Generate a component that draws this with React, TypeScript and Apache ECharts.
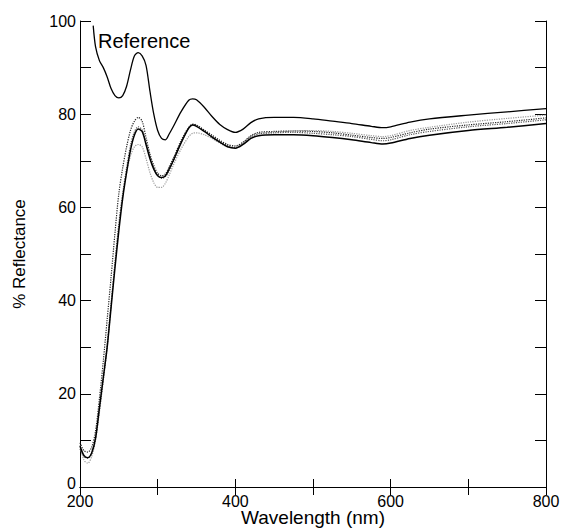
import React, { useEffect, useRef } from "react";
import * as echarts from "echarts";

// Wavelength grid (nm)
const wavelengths = [200, 205, 210, 215, 220, 225, 230, 235, 240, 245, 250, 255, 260, 265, 270, 275, 280, 285, 290, 295, 300, 305, 310, 315, 320, 330, 340, 345, 350, 360, 370, 380, 390, 400, 410, 420, 430, 450, 475, 500, 525, 550, 575, 590, 600, 625, 650, 700, 750, 800];

// Reference spectrum (starts at 217 nm)
const refWavelengths = [217, 220, 225, 230, 235, 240, 245, 250, 255, 260, 265, 270, 275, 280, 285, 290, 295, 300, 305, 310, 315, 320, 330, 340, 345, 350, 360, 370, 380, 390, 400, 410, 420, 430, 450, 475, 500, 525, 550, 575, 590, 600, 625, 650, 700, 750, 800];
const referenceValues = [99, 94.5, 91.5, 90, 88, 85.5, 84, 83.5, 84, 86, 89.5, 92.5, 93.2, 92.5, 90.5, 85, 80, 76.5, 74.8, 74.5, 75.8, 77.3, 80.5, 83, 83.3, 83.1, 81.5, 79.5, 77.8, 76.7, 76.1, 76.8, 78.2, 79.0, 79.3, 79.3, 79.0, 78.5, 78.0, 77.4, 77.1, 77.3, 78.3, 79.0, 79.8, 80.5, 81.2];

// Sample spectra
const sampleA = [8.8, 6.8, 6.3, 7.3, 10.5, 17, 23.5, 30, 38.5, 47, 55, 62, 67.5, 72.3, 75.5, 76.8, 76.3, 73.5, 70.5, 68.2, 66.8, 66.4, 66.8, 68.3, 70, 73.8, 77, 77.7, 77.4, 76.3, 75.1, 74.0, 73.0, 72.7, 73.5, 74.8, 75.4, 75.6, 75.6, 75.4, 75.0, 74.5, 73.9, 73.6, 73.8, 74.8, 75.5, 76.5, 77.2, 78.0];
const sampleB = [9.5, 7.8, 7.5, 8.5, 12, 19, 27, 36, 45, 54.5, 63, 68.5, 73, 76.5, 78.5, 79.3, 78.5, 75, 71.5, 69, 67.3, 66.8, 67.2, 68.8, 70.5, 74.3, 77.2, 77.8, 77.6, 76.6, 75.5, 74.4, 73.5, 73.2, 74, 75.4, 76.1, 76.3, 76.4, 76.3, 76.0, 75.5, 75.0, 74.8, 75.0, 76.0, 76.8, 77.7, 78.4, 79.2];
const sampleC = [9, 5.8, 5.1, 6.5, 10, 16, 23, 31, 39.5, 48, 56, 62.5, 67.5, 71, 73, 73.5, 73, 70.5, 67.5, 65.3, 64.3, 64.3, 65.2, 67, 69, 72.5, 75.2, 75.9, 76.0, 75.6, 74.8, 73.8, 73.0, 72.8, 73.6, 75, 75.8, 76.1, 76.4, 76.5, 76.3, 75.9, 75.4, 75.2, 75.4, 76.5, 77.2, 78.3, 79.1, 79.8];
const sampleD = [8.2, 6.5, 6.2, 7.2, 10.3, 16.5, 23, 30, 39, 48, 56.5, 63, 68.5, 73.3, 76.2, 77.3, 76.6, 74, 71, 68.5, 67, 66.2, 66.6, 68, 69.8, 73.8, 77.1, 77.9, 77.7, 76.5, 75.3, 74.2, 73.3, 72.9, 73.8, 75.2, 75.8, 76.0, 76.1, 75.9, 75.6, 75.2, 74.6, 74.3, 74.5, 75.6, 76.3, 77.3, 78.0, 78.8];

const xTickLabels = ["200", "400", "600", "800"];
const yTickLabels = ["0", "20", "40", "60", "80", "100"];

const FONT = "'Liberation Sans', Arial, Helvetica, sans-serif";

function pair(xs: number[], ys: number[]) {
  return xs.map((x, i) => [x, ys[i]]);
}

export default function App() {
  const ref = useRef<HTMLDivElement>(null);
  useEffect(() => {
    document.body.style.margin = "0";
    if (!ref.current) return;
    const chart = echarts.init(ref.current, null, { renderer: "svg" });
    const axisLine = { show: true, lineStyle: { color: "#000", width: 1 } };
    const xTick = { show: true, inside: true, length: 8, lineStyle: { color: "#000" } };
    const yTick = { show: true, inside: true, length: 11, lineStyle: { color: "#000" } };
    const lineSeries = (name: string, data: number[][], color: string, type: string, width: number) => ({
      name,
      type: "line",
      data,
      showSymbol: false,
      smooth: 0.3,
      lineStyle: { color, type, width },
      z: type === "solid" ? 3 : 2,
    });
    chart.setOption({
      animation: false,
      backgroundColor: "#fff",
      textStyle: { fontFamily: FONT },
      grid: { left: 80, right: 18, top: 21, bottom: 44, outerBoundsMode: "none", containLabel: false },
      xAxis: [
        {
          type: "value",
          min: 200,
          max: 800,
          interval: 100,
          position: "bottom",
          axisLine,
          axisTick: xTick,
          splitLine: { show: false },
          axisLabel: {
            color: "#000",
            fontSize: 16,
            fontFamily: FONT,
            margin: 6,
            formatter: (v: number) => (xTickLabels.includes(String(v)) ? String(v) : ""),
          },
          name: "Wavelength (nm)",
          nameLocation: "middle",
          nameGap: 21,
          nameMoveOverlap: false,
          nameTextStyle: { color: "#000", fontSize: 19, fontFamily: FONT },
        },
        {
          type: "value",
          min: 200,
          max: 800,
          interval: 100,
          position: "top",
          axisLine,
          axisTick: xTick,
          splitLine: { show: false },
          axisLabel: { show: false },
        },
      ],
      yAxis: [
        {
          type: "value",
          min: 0,
          max: 100,
          interval: 10,
          position: "left",
          axisLine,
          axisTick: yTick,
          splitLine: { show: false },
          axisLabel: {
            color: "#000",
            fontSize: 16,
            fontFamily: FONT,
            margin: 4,
            formatter: (v: number) => {
              const s = String(v);
              if (!yTickLabels.includes(s)) return "";
              return v === 0 ? "{zero|0}" : s;
            },
            rich: {
              zero: { color: "#000", fontSize: 16, fontFamily: FONT, padding: [0, 0, 7, 0] },
            },
          },
          name: "% Reflectance",
          nameLocation: "middle",
          nameRotate: 90,
          nameGap: 52,
          nameMoveOverlap: false,
          nameTextStyle: { color: "#000", fontSize: 17, fontFamily: FONT },
        },
        {
          type: "value",
          min: 0,
          max: 100,
          interval: 10,
          position: "right",
          axisLine,
          axisTick: yTick,
          splitLine: { show: false },
          axisLabel: { show: false },
        },
      ],
      graphic: [
        {
          type: "text",
          left: 98,
          top: 31,
          style: { text: "Reference", fontSize: 20, fontFamily: FONT, fill: "#000" },
        },
      ],
      series: [
        lineSeries("Sample C", pair(wavelengths, sampleC), "#999", "dotted", 1.2),
        lineSeries("Sample D", pair(wavelengths, sampleD), "#555", "dotted", 1.2),
        lineSeries("Sample B", pair(wavelengths, sampleB), "#222", "dotted", 1.2),
        lineSeries("Sample A", pair(wavelengths, sampleA), "#000", "solid", 1.5),
        lineSeries("Reference", pair(refWavelengths, referenceValues), "#000", "solid", 1.3),
      ],
    });
    return () => chart.dispose();
  }, []);
  return <div ref={ref} style={{ width: 564, height: 531 }} />;
}
